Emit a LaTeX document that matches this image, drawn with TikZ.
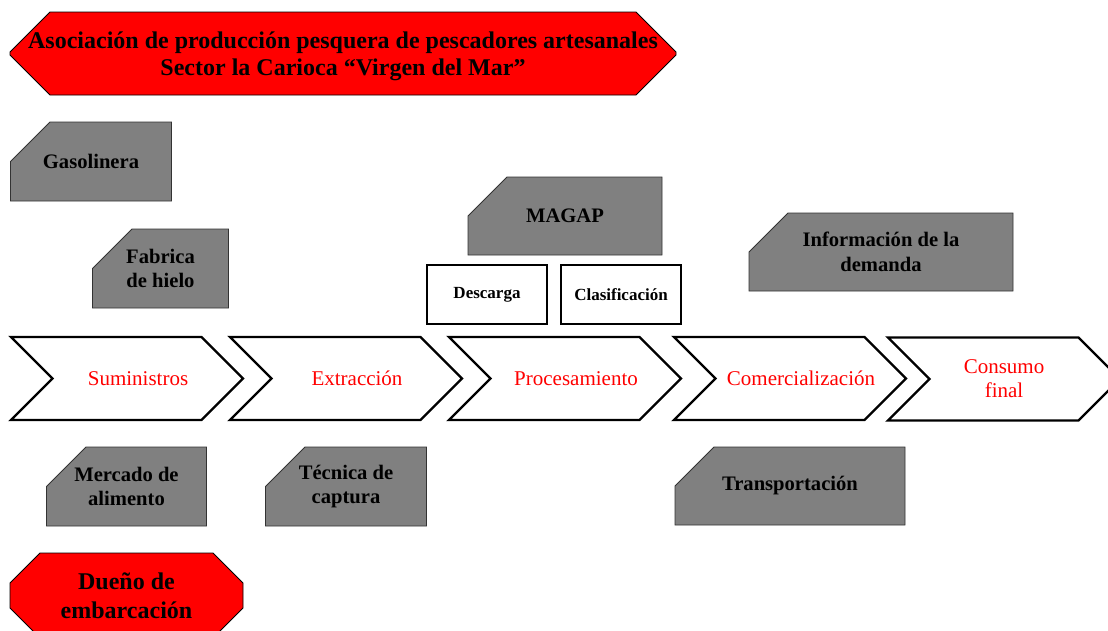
\documentclass[tikz,border=0pt]{standalone}
\usepackage{fontspec}
\setmainfont{Liberation Serif}
\usetikzlibrary{shapes.misc,shapes.symbols}
\definecolor{gris}{RGB}{128,128,128}
\definecolor{rojo}{RGB}{255,0,0}
\tikzset{%
  titulo/.style = {chamfered rectangle, chamfered rectangle sep=20pt,
    draw=black, fill=rojo, line width=0.8pt, inner sep=0pt, text depth=0pt},
  titulotexto/.style = {align=center, inner sep=0pt,
    font=\bfseries\fontsize{24}{27}\selectfont},
  actor/.style = {chamfered rectangle, chamfered rectangle corners=north west,
    chamfered rectangle sep=28pt, draw=black!80, fill=gris, line width=0.8pt,
    inner sep=0pt, text depth=0pt, text height=23pt},
  actortexto/.style = {align=center, inner sep=0pt,
    font=\bfseries\fontsize{20.6}{24.5}\selectfont},
  tarea/.style = {rectangle, draw, line width=2pt, fill=white, inner sep=0pt,
    minimum width=120pt, minimum height=59pt,
    font=\bfseries\fontsize{17}{20}\selectfont},
  etapa/.style = {signal, signal to=east, signal from=west,
    signal pointer angle=90, draw, line width=2.4pt, fill=white,
    inner sep=0pt, minimum width=232pt, minimum height=83pt},
  etiqueta/.style = {text=rojo, align=center, inner sep=0pt,
    font=\fontsize{21}{24}\selectfont}
}

\begin{document}
\begin{tikzpicture}[x=1pt, y=-1pt]
  \useasboundingbox (0,0) rectangle (1108,630);

  % cabecera
  \node[titulo, text width=626pt, text height=43pt,
    label={[titulotexto, yshift=-2.5pt]center:Asociación de producción pesquera de pescadores artesanales\\
      Sector la Carioca “Virgen del Mar”}] (asoc) at (343,53.5) {};

  % cadena de valor
  \node[etapa, label={[etiqueta, xshift=11pt]center:Suministros}] (sumi) at (127,378.5) {};
  \node[etapa, label={[etiqueta, xshift=11pt]center:Extracción}] (extr) at (346,378.5) {};
  \node[etapa, label={[etiqueta, xshift=11pt]center:Procesamiento}] (proc) at (565,378.5) {};
  \node[etapa, label={[etiqueta, xshift=11pt]center:Comercialización}] (come) at (790,378.5) {};
  \node[etapa, label={[etiqueta]center:Consumo\\final}] (cons) at (1004,379) {};

  % actores
  \node[actor, text width=138pt,
    label={[actortexto]center:Gasolinera}] (gaso) at (91,161.5) {};
  \node[actor, text width=113pt,
    label={[actortexto]center:Fabrica\\de hielo}] (hielo) at (160.5,268.5) {};
  \node[actor, text width=172pt, text height=22pt,
    label={[actortexto]center:MAGAP}] (magap) at (565,216) {};
  \node[actor, text width=242pt, text height=22pt,
    label={[actortexto]center:Información de la\\demanda}] (info) at (881,252) {};
  \node[actor, text width=137pt,
    label={[actortexto]center:Mercado de\\alimento}] (merc) at (126.5,486.5) {};
  \node[actor, text width=138pt,
    label={[actortexto]center:Técnica de\\captura}] (tecn) at (346,486.5) {};
  \node[actor, text width=208pt, text height=22pt,
    label={[actortexto]center:Transportación}] (trans) at (790,486) {};

  \node[tarea] (desc) at (487,294.5) {Descarga};
  \node[tarea] (clas) at (621,294.5) {Clasificación};

  \node[titulo, chamfered rectangle sep=15pt, text width=203pt, text height=55pt,
    label={[titulotexto, font=\bfseries\fontsize{24}{29}\selectfont]center:Dueño de\\embarcación}]
    (duen) at (126.5,595.5) {};
\end{tikzpicture}
\end{document}
